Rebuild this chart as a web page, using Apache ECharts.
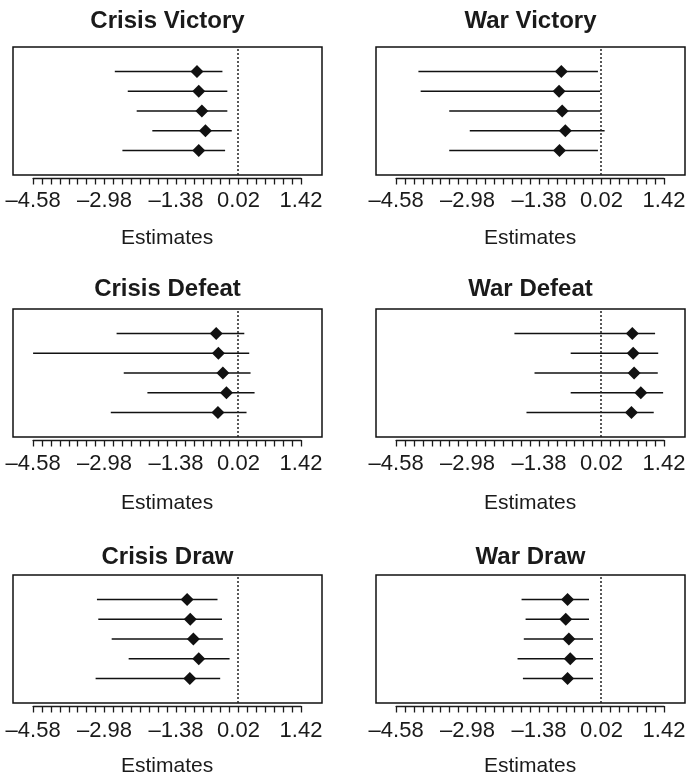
<!DOCTYPE html>
<html>
<head>
<meta charset="utf-8">
<script src="https://cdn.jsdelivr.net/npm/echarts@6/dist/echarts.min.js"></script>
<style>
html,body{margin:0;padding:0;background:#fff;}
#chart{width:687px;height:778px;}
</style>
</head>
<body>
<div id="chart"></div>
<script>
// ---- data (rows listed top to bottom) ----
const panelTitles = ['Crisis Victory', 'War Victory', 'Crisis Defeat', 'War Defeat', 'Crisis Draw', 'War Draw'];
const rowPositions = [4, 3, 2, 1, 0];

const crisisVictoryEst = [-0.91, -0.87, -0.80, -0.72, -0.87];
const crisisVictoryLo  = [-2.75, -2.46, -2.26, -1.91, -2.58];
const crisisVictoryHi  = [-0.34, -0.23, -0.23, -0.13, -0.28];

const warVictoryEst = [-0.88, -0.93, -0.86, -0.79, -0.92];
const warVictoryLo  = [-4.08, -4.03, -3.39, -2.93, -3.39];
const warVictoryHi  = [-0.06, -0.01, 0.00, 0.09, -0.06];

const crisisDefeatEst = [-0.48, -0.43, -0.33, -0.25, -0.44];
const crisisDefeatLo  = [-2.71, -4.58, -2.55, -2.02, -2.84];
const crisisDefeatHi  = [0.15, 0.26, 0.29, 0.38, 0.20];

const warDefeatEst = [0.71, 0.73, 0.75, 0.90, 0.69];
const warDefeatLo  = [-1.93, -0.67, -1.48, -0.67, -1.66];
const warDefeatHi  = [1.22, 1.29, 1.28, 1.40, 1.19];

const crisisDrawEst = [-1.13, -1.06, -0.99, -0.87, -1.07];
const crisisDrawLo  = [-3.15, -3.12, -2.82, -2.44, -3.18];
const crisisDrawHi  = [-0.45, -0.35, -0.33, -0.18, -0.39];

const warDrawEst = [-0.74, -0.78, -0.71, -0.68, -0.74];
const warDrawLo  = [-1.77, -1.68, -1.72, -1.86, -1.74];
const warDrawHi  = [-0.26, -0.26, -0.17, -0.17, -0.17];

const tickLabelValues = [-4.58, -2.98, -1.38, 0.02, 1.42];
const minorTickStart = -4.58;
const minorTickStep = 0.2;
const minorTickCount = 31;
const referenceValue = 0;
const axisTitle = 'Estimates';

// ---- assemble ----
const panels = [
  [crisisVictoryEst, crisisVictoryLo, crisisVictoryHi],
  [warVictoryEst, warVictoryLo, warVictoryHi],
  [crisisDefeatEst, crisisDefeatLo, crisisDefeatHi],
  [warDefeatEst, warDefeatLo, warDefeatHi],
  [crisisDrawEst, crisisDrawLo, crisisDrawHi],
  [warDrawEst, warDrawLo, warDrawHi]
];

const minorTicks = [];
for (let i = 0; i < minorTickCount; i++) minorTicks.push(+(minorTickStart + i * minorTickStep).toFixed(2));

const X_MIN = -5.03, X_MAX = 1.89;
const Y_MIN = -1.25, Y_MAX = 5.25;
const BOX_W = 309, BOX_H = 128;
const colLeft = [13, 376];
const rowTop = [47, 309, 575];
const labelMargin = [12, 12.5, 13.5];
const nameGaps = [50, 53, 50];
const titleY = [21, 289.5, 557.5];
const FONT = '"Liberation Sans", Arial, Helvetica, sans-serif';

const grid = [], xAxis = [], yAxis = [], series = [], graphic = [];
const fmt = v => (v < 0 ? '\u2013' + Math.abs(v).toFixed(2) : v.toFixed(2));

panels.forEach((p, k) => {
  const col = k % 2, row = Math.floor(k / 2);
  const [est, lo, hi] = p;
  const L = colLeft[col], T = rowTop[row];
  const ppu = BOX_W / (X_MAX - X_MIN);
  const tL = L + (tickLabelValues[0] - X_MIN) * ppu;
  const tR = L + (tickLabelValues[tickLabelValues.length - 1] - X_MIN) * ppu;
  const gBox = 2 * k, gTick = 2 * k + 1;

  grid.push({left: L, top: T, width: BOX_W, height: BOX_H, show: true,
    borderColor: '#111', borderWidth: 1.5, backgroundColor: 'transparent', outerBoundsMode: 'none', containLabel: false});
  grid.push({left: tL, top: T, width: tR - tL, height: BOX_H, show: false, outerBoundsMode: 'none', containLabel: false});

  xAxis.push({gridIndex: gBox, type: 'value', min: X_MIN, max: X_MAX, show: false});
  xAxis.push({
    gridIndex: gTick, type: 'value', position: 'bottom',
    min: tickLabelValues[0], max: tickLabelValues[tickLabelValues.length - 1],
    offset: 3,
    axisLine: {show: true, onZero: false, lineStyle: {color: '#1a1a1a', width: 1.3}},
    axisTick: {show: true, inside: false, length: 6.5, customValues: minorTicks, lineStyle: {color: '#1a1a1a', width: 1.3}},
    axisLabel: {show: true, customValues: tickLabelValues, formatter: fmt, margin: labelMargin[row],
      fontFamily: FONT, fontSize: 22, color: '#1a1a1a', hideOverlap: false},
    splitLine: {show: false},
    name: axisTitle, nameLocation: 'middle', nameGap: nameGaps[row],
    nameTextStyle: {fontFamily: FONT, fontSize: 21, color: '#1a1a1a'}
  });
  yAxis.push({gridIndex: gBox, type: 'value', min: Y_MIN, max: Y_MAX, show: false});
  yAxis.push({gridIndex: gTick, type: 'value', min: 0, max: 1, show: false});

  series.push({
    type: 'custom', xAxisIndex: gBox, yAxisIndex: gBox,
    encode: {x: [0, 1], y: 2},
    data: lo.map((l, i) => [l, hi[i], rowPositions[i]]),
    renderItem: (params, api) => {
      const y = api.value(2);
      const a = api.coord([api.value(0), y]);
      const b = api.coord([api.value(1), y]);
      return {type: 'line', shape: {x1: a[0], y1: a[1], x2: b[0], y2: b[1]},
        style: {stroke: '#111', lineWidth: 1.5}};
    },
    z: 2, silent: true
  });
  series.push({
    type: 'scatter', xAxisIndex: gBox, yAxisIndex: gBox,
    data: est.map((e, i) => [e, rowPositions[i]]),
    symbol: 'diamond', symbolSize: 13,
    itemStyle: {color: '#111', opacity: 1}, z: 3, silent: true,
    markLine: {silent: true, symbol: 'none', label: {show: false},
      lineStyle: {color: '#222', type: [2, 2], width: 1.5},
      data: [{xAxis: referenceValue}]}
  });

  graphic.push({type: 'text', x: L + BOX_W / 2, y: titleY[row],
    style: {text: panelTitles[k], font: 'bold 24px ' + FONT, fill: '#1a1a1a', align: 'center', verticalAlign: 'middle'}});
});

const chart = echarts.init(document.getElementById('chart'), null, {renderer: 'canvas'});
chart.setOption({
  animation: false,
  backgroundColor: '#fff',
  grid, xAxis, yAxis, series, graphic
});
</script>
</body>
</html>
